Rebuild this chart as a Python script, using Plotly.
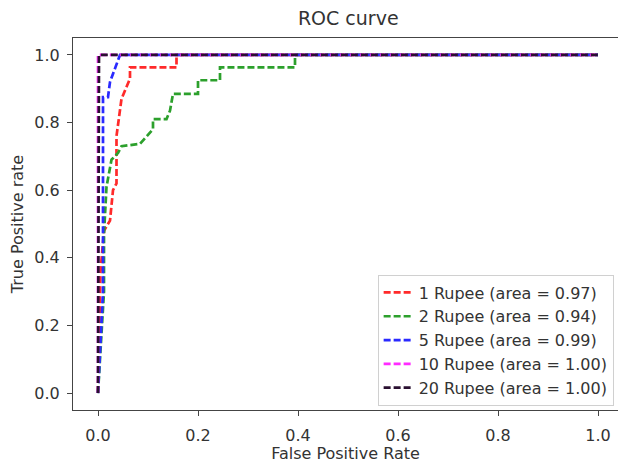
import plotly.graph_objects as go

# ROC data
fpr_1 = [0.0, 0.005, 0.012, 0.024, 0.030, 0.037, 0.037, 0.047, 0.064, 0.064, 0.157, 0.157, 1.0]
tpr_1 = [0.0, 0.36, 0.48, 0.51, 0.60, 0.62, 0.76, 0.87, 0.93, 0.963, 0.963, 1.0, 1.0]

fpr_2 = [0.0, 0.012, 0.012, 0.017, 0.027, 0.040, 0.047, 0.084, 0.110, 0.110, 0.137, 0.144, 0.150,
         0.200, 0.200, 0.244, 0.244, 0.394, 0.394, 1.0]
tpr_2 = [0.0, 0.30, 0.47, 0.61, 0.69, 0.71, 0.73, 0.737, 0.78, 0.81, 0.81, 0.835, 0.885,
         0.885, 0.925, 0.925, 0.963, 0.963, 1.0, 1.0]

fpr_5 = [0.0, 0.010, 0.010, 0.020, 0.024, 0.034, 0.044, 1.0]
tpr_5 = [0.0, 0.30, 0.875, 0.875, 0.92, 0.963, 1.0, 1.0]

fpr_10 = [0.0, 0.0, 1.0]
tpr_10 = [0.0, 1.0, 1.0]

fpr_20 = [0.0, 0.002, 1.0]
tpr_20 = [0.0, 1.0, 1.0]

names = ["1 Rupee (area = 0.97)", "2 Rupee (area = 0.94)", "5 Rupee (area = 0.99)",
         "10 Rupee (area = 1.00)", "20 Rupee (area = 1.00)"]
colors = ["#ff2a2a", "#2ca02c", "#2a2aff", "#ff2aff", "#2a1030"]
xs = [fpr_1, fpr_2, fpr_5, fpr_10, fpr_20]
ys = [tpr_1, tpr_2, tpr_5, tpr_10, tpr_20]

x_ticks = [0.0, 0.2, 0.4, 0.6, 0.8, 1.0]
y_ticks = [0.0, 0.2, 0.4, 0.6, 0.8, 1.0]

fig = go.Figure()
for i, (x, y, n, c) in enumerate(zip(xs, ys, names, colors)):
    fig.add_trace(go.Scatter(x=x, y=y, mode="lines", name=n, legendgroup=f"g{i}",
                             line=dict(color=c, width=2.7, dash="7px,3px")))

font = "DejaVu Sans, sans-serif"
fig.update_layout(
    width=618, height=463,
    margin=dict(l=73, r=0, t=38, b=53),
    paper_bgcolor="white", plot_bgcolor="white",
    font=dict(family=font, size=16, color="#333333"),
    title=dict(text="ROC curve", x=0.5635, xanchor="center", y=0.96, yanchor="middle",
               font=dict(size=19, color="#333333")),
    showlegend=True,
    legend=dict(x=0.992, xanchor="right", y=0.012, yanchor="bottom",
                bgcolor="white", bordercolor="#d0d0d0", borderwidth=1,
                font=dict(size=16, color="#333333"), tracegroupgap=4,
                traceorder="normal"),
    xaxis=dict(range=[-0.05, 1.04], tickvals=x_ticks, ticktext=[f"{v:.1f}" for v in x_ticks],
               showgrid=False, zeroline=False, showline=True, linecolor="#444444", linewidth=1,
               mirror=True, ticks="outside", ticklen=5, tickcolor="#444444",
               tickfont=dict(size=16), ticklabelstandoff=6,
               title=dict(text="False Positive Rate", standoff=6, font=dict(size=16))),
    yaxis=dict(range=[-0.05, 1.05], tickvals=y_ticks, ticktext=[f"{v:.1f}" for v in y_ticks],
               showgrid=False, zeroline=False, showline=True, linecolor="#444444", linewidth=1,
               mirror=False, ticks="outside", ticklen=5, tickcolor="#444444",
               tickfont=dict(size=16), ticklabelstandoff=4,
               title=dict(text="True Positive rate", standoff=6, font=dict(size=16))),
)
fig.write_html("out.html")
